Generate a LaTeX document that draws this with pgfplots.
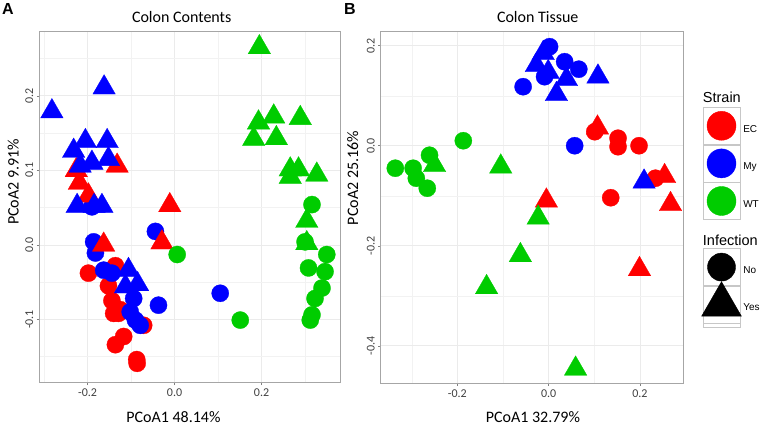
\documentclass[border=0pt]{standalone}
\usepackage{fontspec}
\setmainfont{Carlito}
\newfontfamily\legfont{Liberation Sans}
\usepackage{pgfplots}
\pgfplotsset{compat=1.18}
\definecolor{ecred}{RGB}{255,0,0}
\definecolor{myblue}{RGB}{0,0,255}
\definecolor{wtgreen}{RGB}{0,204,0}
\pgfplotsset{
 pcoa/.style={
  scale only axis,
  axis line style={black!35, line width=0.7pt},
  grid=both,
  major grid style={black!8, line width=0.6pt},
  minor grid style={black!5, line width=0.35pt},
  tick style={black!50, line width=0.5pt},
  major tick length=2.5pt,
  minor tick length=0pt,
  tick align=outside,
  tick pos=left,
  /pgf/number format/assume math mode=true,
  ticklabel style={font=\fontsize{12}{12}\selectfont, text=black!75},
  yticklabel style={rotate=90, anchor=south},
  label style={font=\fontsize{16}{19}\selectfont},
  title style={font=\fontsize{16}{19}\selectfont},
 },
 no/.style={only marks, mark=*, mark size=8.6pt, mark options={line width=0.3pt}},
 yes/.style={only marks, mark=triangle*, mark size=13pt, mark options={line width=0.3pt}},
 legbox/.style={hide axis, scale only axis, width=37pt, height=74pt,
  xmin=0, xmax=1, ymin=0, ymax=1,
  legend style={at={(0,1)}, anchor=north west, draw=none, fill=none,
   inner sep=0pt, outer sep=0pt, row sep=0pt, column sep=3pt,
   font=\legfont\fontsize{10}{12}\selectfont,
   nodes={inner sep=0pt, outer sep=0pt}},
  legend cell align=left},
}
\begin{document}
\begin{tikzpicture}
\useasboundingbox (0,0) rectangle (768pt,427pt);
% ---------------- Panel A ----------------
\begin{axis}[pcoa, at={(39.3pt,44.3pt)}, anchor=south west, width=301.4pt, height=351pt,
 xmin=-0.311, xmax=0.382, ymin=-0.185, ymax=0.286,
 xtick={-0.2,0,0.2}, xticklabels={-0.2,0.0,0.2},
 ytick={-0.1,0,0.1,0.2}, yticklabels={-0.1,0.0,0.1,0.2},
 minor xtick={-0.3,-0.1,0.1,0.3}, minor ytick={-0.15,-0.05,0.05,0.15,0.25},
 xlabel={PCoA1 48.14\%}, ylabel={PCoA2 9.91\%}, title={Colon Contents},
 xlabel style={at={(axis description cs:0.445,-0.0986)}, anchor=center},
 ylabel style={at={(axis description cs:-0.0863,0.572)}, anchor=center},
 title style={at={(axis description cs:0.4725,1.0256)}, anchor=center},
]
% EC, No
\addplot[no, ecred] coordinates {(-0.198,-0.038) (-0.136,-0.028) (-0.152,-0.055) (-0.144,-0.075) (-0.140,-0.092) (-0.129,-0.092) (-0.125,-0.087) (-0.071,-0.108) (-0.117,-0.123) (-0.136,-0.134) (-0.086,-0.159) (-0.087,-0.154)};
% My, No
\addplot[no, myblue] coordinates {(-0.190,0.051) (-0.044,0.018) (-0.186,0.004) (-0.182,-0.011) (-0.163,-0.034) (-0.144,-0.038) (-0.094,-0.072) (-0.102,-0.090) (-0.090,-0.101) (-0.079,-0.108) (-0.037,-0.081) (0.105,-0.065)};
% EC, Yes
\addplot[yes, ecred] coordinates {(-0.132,0.106) (-0.226,0.100) (-0.219,0.083) (-0.198,0.066) (-0.011,0.053) (-0.029,0.003) (-0.163,0.000)};
% My, Yes
\addplot[yes, myblue] coordinates {(-0.282,0.179) (-0.162,0.211) (-0.205,0.139) (-0.155,0.139) (-0.232,0.126) (-0.190,0.110) (-0.152,0.115) (-0.217,0.106) (-0.224,0.052) (-0.167,0.052) (-0.185,0.052) (-0.106,-0.034) (-0.113,-0.056) (-0.085,-0.053)};
% WT, No
\addplot[no, wtgreen] coordinates {(0.006,-0.013) (0.151,-0.101) (0.316,0.054) (0.300,0.004) (0.350,-0.013) (0.308,-0.031) (0.346,-0.036) (0.339,-0.058) (0.323,-0.072) (0.312,-0.101) (0.316,-0.094)};
% WT, Yes
\addplot[yes, wtgreen] coordinates {(0.195,0.265) (0.228,0.172) (0.193,0.164) (0.289,0.170) (0.182,0.142) (0.234,0.143) (0.266,0.101) (0.285,0.101) (0.266,0.091) (0.327,0.094) (0.304,0.032) (0.304,0.002)};
\end{axis}
% ---------------- Panel B ----------------
\begin{axis}[pcoa, at={(380.7pt,43.7pt)}, anchor=south west, width=302.6pt, height=351.6pt,
 xmin=-0.368, xmax=0.295, ymin=-0.475, ymax=0.228,
 xtick={-0.2,0,0.2}, xticklabels={-0.2,0.0,0.2},
 ytick={-0.4,-0.2,0,0.2}, yticklabels={-0.4,-0.2,0.0,0.2},
 minor xtick={-0.3,-0.1,0.1}, minor ytick={-0.3,-0.1,0.1},
 xlabel={PCoA1 32.79\%}, ylabel={PCoA2 25.16\%}, title={Colon Tissue},
 xlabel style={at={(axis description cs:0.503,-0.0967)}, anchor=center},
 ylabel style={at={(axis description cs:-0.0925,0.584)}, anchor=center},
 title style={at={(axis description cs:0.519,1.0256)}, anchor=center},
]
% EC, No
\addplot[no, ecred] coordinates {(0.101,0.028) (0.152,0.015) (0.152,-0.002) (0.198,0.000) (0.234,-0.065) (0.136,-0.104)};
% My, No
\addplot[no, myblue] coordinates {(0.002,0.198) (0.035,0.168) (0.066,0.153) (-0.056,0.118) (-0.009,0.138) (0.057,0.000)};
% EC, Yes
\addplot[yes, ecred] coordinates {(0.107,0.036) (0.254,-0.061) (-0.005,-0.110) (0.267,-0.117) (0.199,-0.247)};
% My, Yes
\addplot[yes, myblue] coordinates {(-0.012,0.185) (-0.027,0.161) (-0.001,0.147) (0.017,0.103) (0.039,0.133) (0.108,0.138) (0.209,-0.072)};
% WT, No
\addplot[no, wtgreen] coordinates {(-0.187,0.010) (-0.336,-0.045) (-0.297,-0.045) (-0.290,-0.065) (-0.266,-0.085) (-0.261,-0.019)};
% WT, Yes
\addplot[yes, wtgreen] coordinates {(-0.250,-0.039) (-0.105,-0.042) (-0.023,-0.144) (-0.062,-0.219) (-0.136,-0.283) (0.059,-0.446)};
\end{axis}
% ---------------- Legends ----------------
\node[anchor=west, inner sep=0pt, font=\legfont\fontsize{14.5}{16}\selectfont] at (702.7pt,330pt) {Strain};
\begin{axis}[legbox, at={(702.7pt,320pt)}, anchor=north west]
\addlegendimage{legend image code/.code={\draw[black!22,fill=white,line width=0.6pt] (0pt,-14.9pt) rectangle (37pt,22.1pt); \fill[ecred] (18.5pt,3.6pt) circle (14.5pt);}}
\addlegendentry{EC}
\addlegendimage{legend image code/.code={\draw[black!22,fill=white,line width=0.6pt] (0pt,-14.9pt) rectangle (37pt,22.1pt); \fill[myblue] (18.5pt,3.6pt) circle (14.5pt);}}
\addlegendentry{My}
\addlegendimage{legend image code/.code={\draw[black!22,fill=white,line width=0.6pt] (0pt,-14.9pt) rectangle (37pt,22.1pt); \fill[wtgreen] (18.5pt,3.6pt) circle (14.5pt);}}
\addlegendentry{WT}
\end{axis}
\node[anchor=west, inner sep=0pt, font=\legfont\fontsize{14.5}{16}\selectfont] at (702.7pt,187pt) {Infection};
\begin{axis}[legbox, at={(702.7pt,178.7pt)}, anchor=north west]
\addlegendimage{legend image code/.code={\draw[black!22,fill=white,line width=0.6pt] (0pt,-14.9pt) rectangle (37pt,22.1pt); \fill[black] (18.5pt,3.6pt) circle (14pt);}}
\addlegendentry{No}
\addlegendimage{legend image code/.code={\draw[black!22,fill=white,line width=0.6pt] (0pt,-14.9pt) rectangle (37pt,22.1pt); \draw[black!22,line width=0.6pt,overlay] (0pt,-14.9pt) rectangle (37pt,-18.9pt); \fill[black,overlay] (18.5pt,26.6pt) -- (-1.4pt,-7.9pt) -- (38.4pt,-7.9pt) -- cycle;}}
\addlegendentry{Yes}
\end{axis}
% ---------------- Panel letters ----------------
\node[font=\legfont\bfseries\fontsize{16}{16}\selectfont, inner sep=0pt] at (8pt,418pt) {A};
\node[font=\legfont\bfseries\fontsize{16}{16}\selectfont, inner sep=0pt] at (350pt,418pt) {B};
\end{tikzpicture}
\end{document}
